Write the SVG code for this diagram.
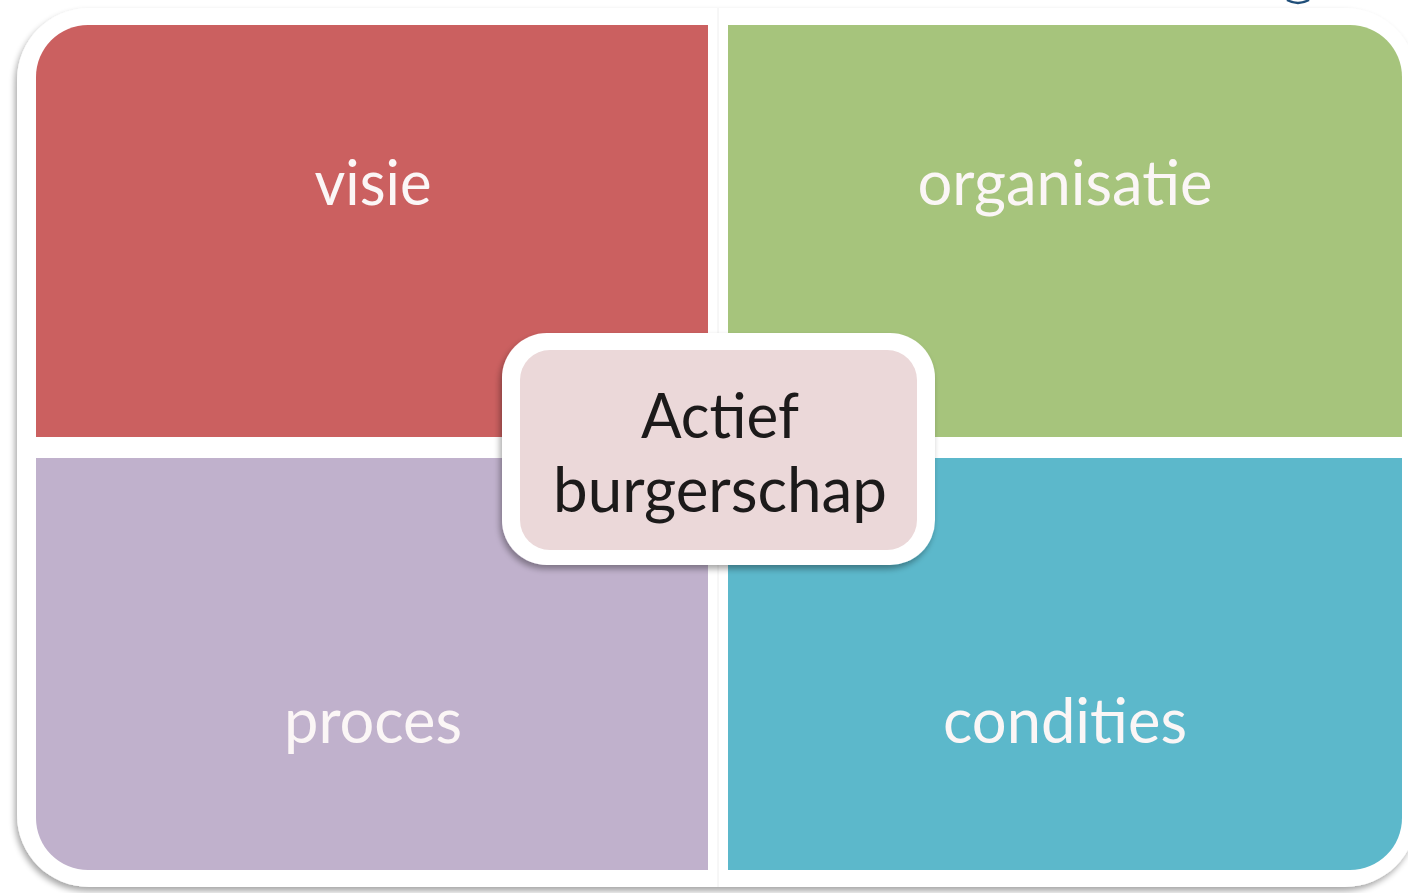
<svg xmlns="http://www.w3.org/2000/svg" width="1408" height="893" viewBox="0 0 1408 893">
  <defs>
    <filter id="shadow" x="-5%" y="-5%" width="110%" height="115%">
      <feGaussianBlur in="SourceAlpha" stdDeviation="3"/>
      <feOffset dx="-2" dy="4" result="b"/>
      <feComponentTransfer><feFuncA type="linear" slope="0.35"/></feComponentTransfer>
      <feMerge><feMergeNode/><feMergeNode in="SourceGraphic"/></feMerge>
    </filter>
  </defs>
  <style>
    .lbl { font-family: Lato, "Open Sans", "Liberation Sans", sans-serif; font-size: 62px; fill: #FBF6F6; text-anchor: middle; }
    .ctr { font-family: Lato, "Open Sans", "Liberation Sans", sans-serif; font-size: 62px; fill: #1C1A1A; text-anchor: middle; }
  </style>
  <rect width="1408" height="893" fill="#FFFFFF"/>
  <g id="frame">
    <rect x="17" y="8" width="1400" height="879" rx="72" fill="#FFFFFF" filter="url(#shadow)"/>
    <line x1="718" y1="8" x2="718" y2="887" stroke="#EEEEEE" stroke-width="1"/>
  </g>
  <g id="visie">
    <path d="M36,77 A52,52 0 0 1 88,25 H708 V437 H36 Z" fill="#CB6060"/>
    <text class="lbl" x="373" y="205" textLength="117" lengthAdjust="spacingAndGlyphs">visie</text>
  </g>
  <g id="organisatie">
    <path d="M728,25 H1350 A52,52 0 0 1 1402,77 V437 H728 Z" fill="#A6C47C"/>
    <text class="lbl" x="1065" y="205" textLength="295" lengthAdjust="spacingAndGlyphs">organisatie</text>
  </g>
  <g id="proces">
    <path d="M36,458 H708 V870 H88 A52,52 0 0 1 36,818 Z" fill="#C0B1CC"/>
    <text class="lbl" x="373" y="743" textLength="178" lengthAdjust="spacingAndGlyphs">proces</text>
  </g>
  <g id="condities">
    <path d="M728,458 H1402 V818 A52,52 0 0 1 1350,870 H728 Z" fill="#5CB8CB"/>
    <text class="lbl" x="1065" y="743" textLength="244" lengthAdjust="spacingAndGlyphs">condities</text>
  </g>
  <g id="actief-burgerschap">
    <rect x="502" y="333" width="433" height="232" rx="45" fill="#FFFFFF" filter="url(#shadow)"/>
    <rect x="520" y="350" width="397" height="200" rx="30" fill="#EBD8D9"/>
    <text class="ctr" x="720" y="438" textLength="158" lengthAdjust="spacingAndGlyphs">Actief</text>
    <text class="ctr" x="720" y="512" textLength="334" lengthAdjust="spacingAndGlyphs">burgerschap</text>
  </g>
  <g id="corner-fragment">
    <path d="M1287,0 Q1298,6 1309,0" fill="none" stroke="#1F4E79" stroke-width="2.5"/>
  </g>
  <g id="connectors"/>
</svg>
